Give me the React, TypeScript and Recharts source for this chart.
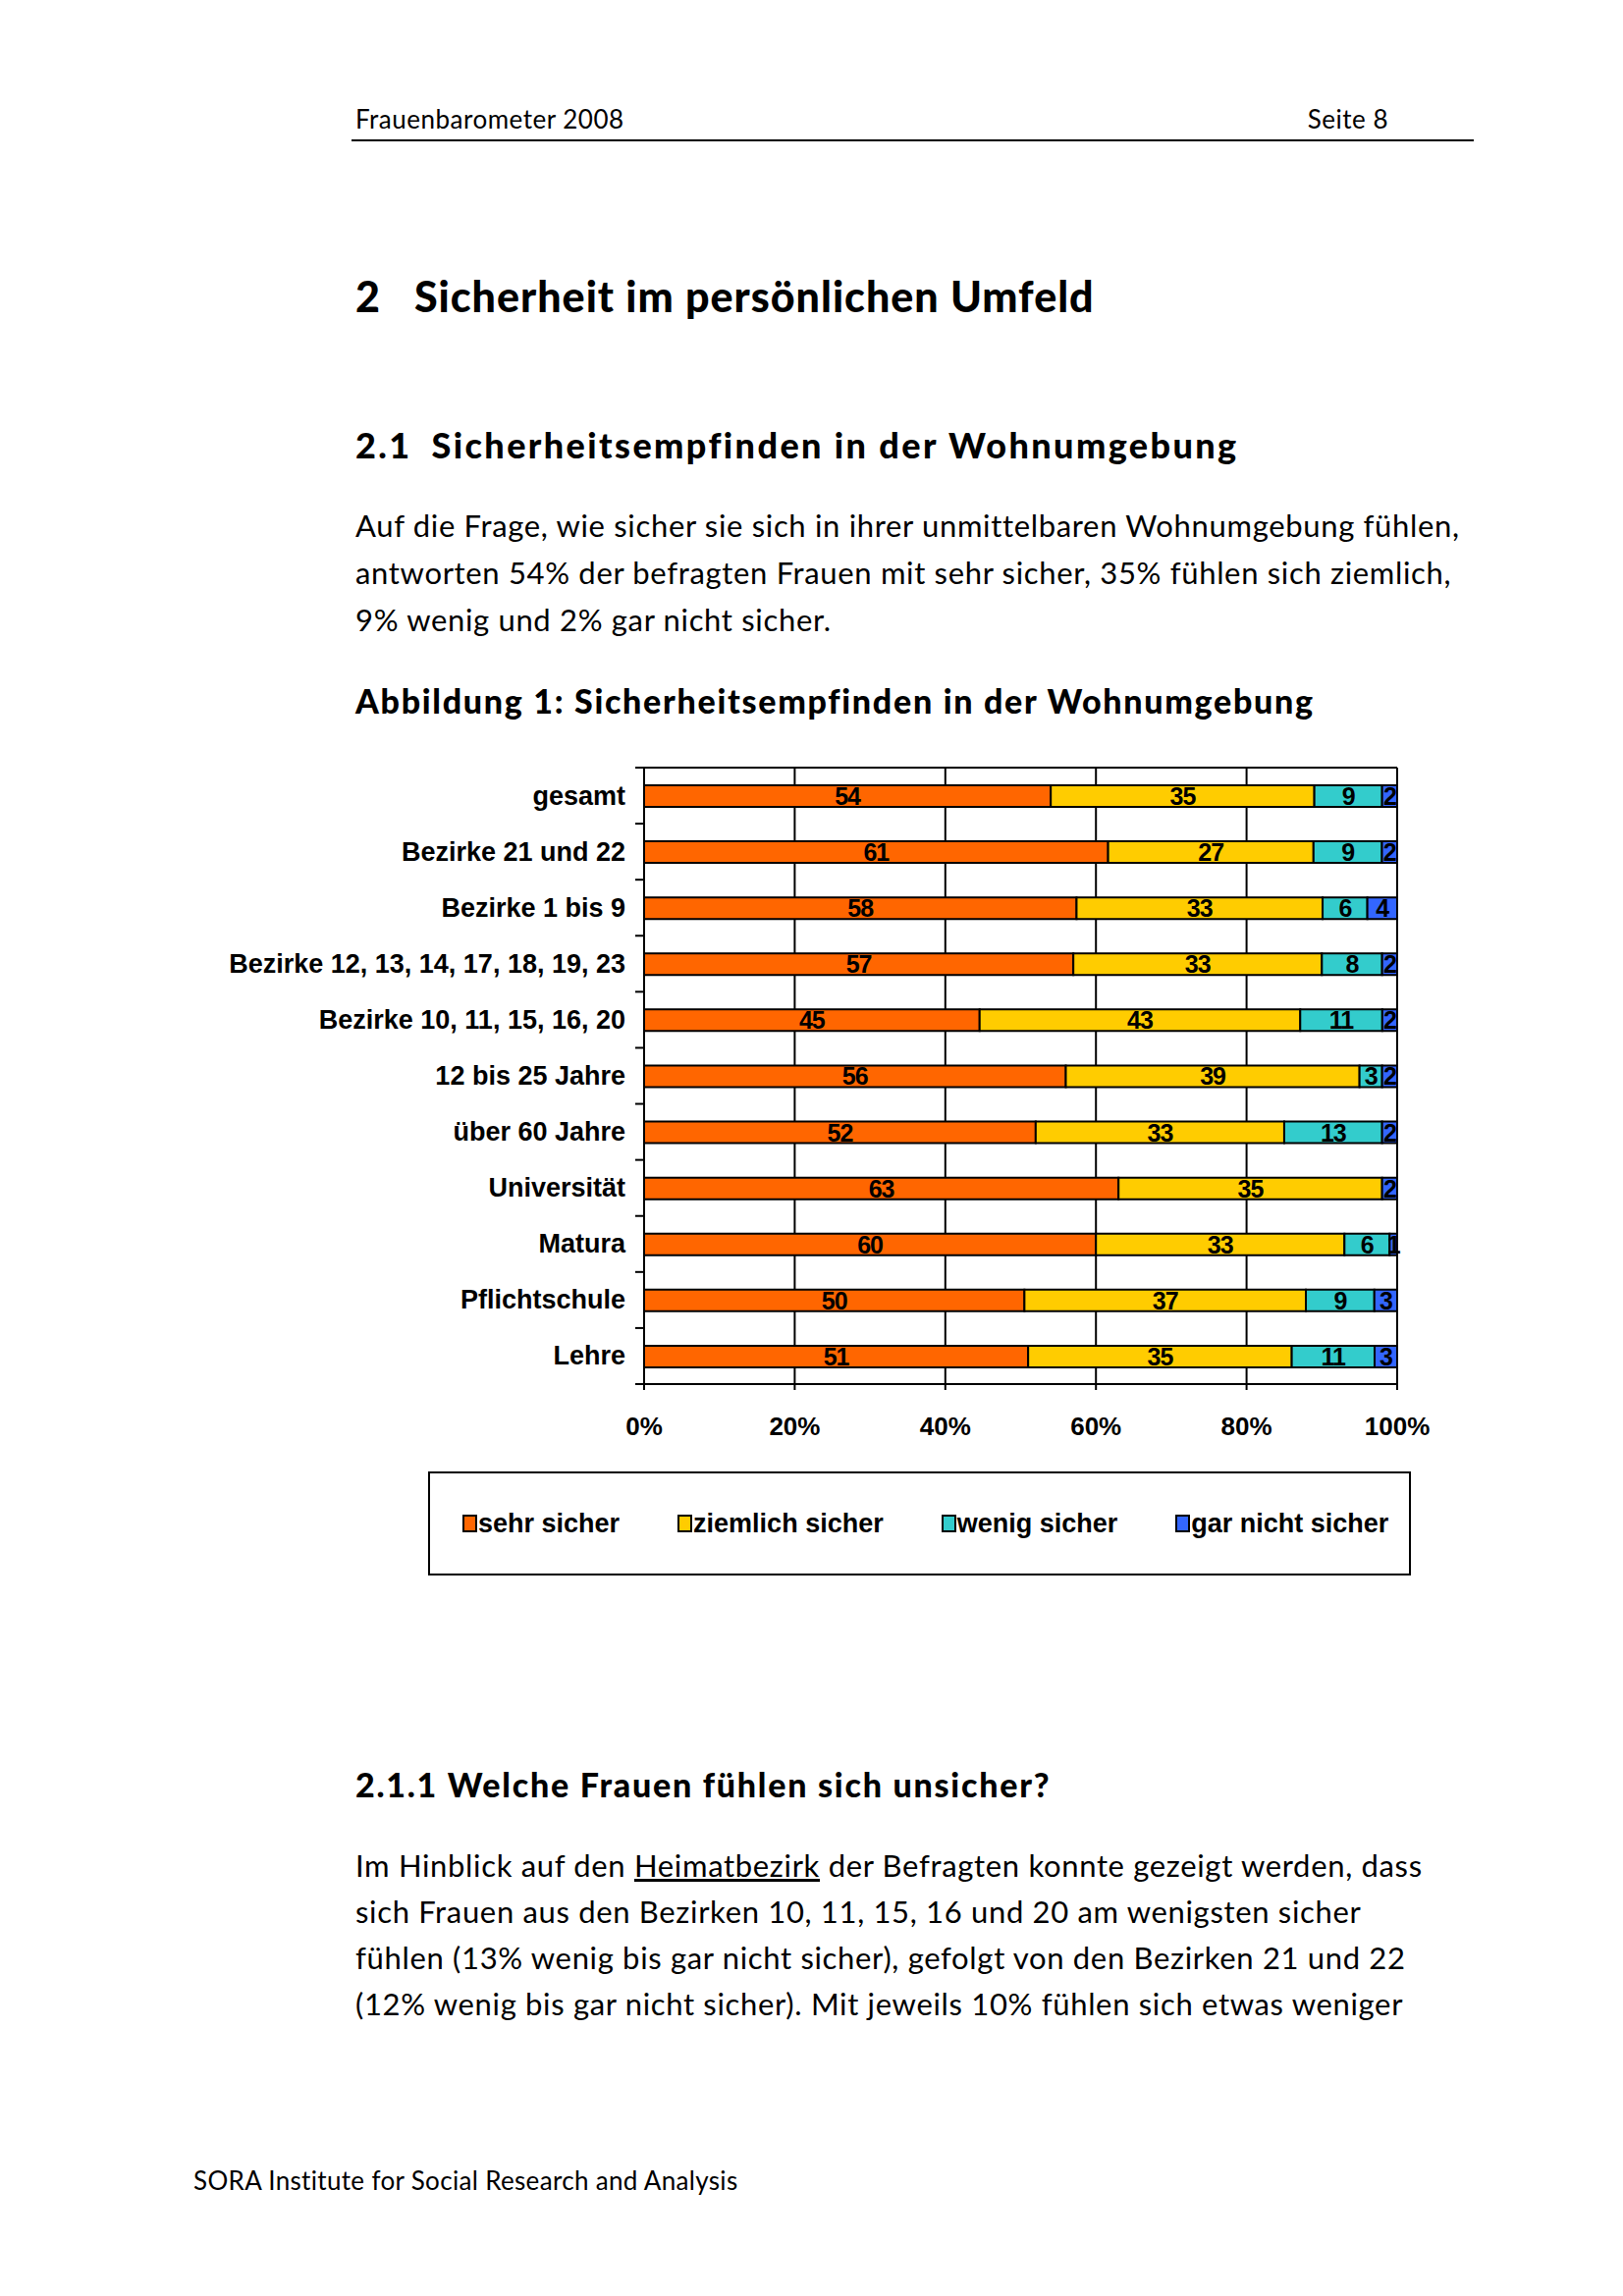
import React from 'react';
import { BarChart, Bar, XAxis, YAxis, CartesianGrid, LabelList, Legend } from 'recharts';

const categories = [
  'gesamt',
  'Bezirke 21 und 22',
  'Bezirke 1 bis 9',
  'Bezirke 12, 13, 14, 17, 18, 19, 23',
  'Bezirke 10, 11, 15, 16, 20',
  '12 bis 25 Jahre',
  'über 60 Jahre',
  'Universität',
  'Matura',
  'Pflichtschule',
  'Lehre',
];
const sehrSicher = [54, 61, 58, 57, 45, 56, 52, 63, 60, 50, 51];
const ziemlichSicher = [35, 27, 33, 33, 43, 39, 33, 35, 33, 37, 35];
const wenigSicher = [9, 9, 6, 8, 11, 3, 13, 0, 6, 9, 11];
const garNichtSicher = [2, 2, 4, 2, 2, 2, 2, 2, 1, 3, 3];
const seriesKeys = ['sehr', 'ziemlich', 'wenig', 'gar'];
const seriesNames = ['sehr sicher', 'ziemlich sicher', 'wenig sicher', 'gar nicht sicher'];
const seriesColors = ['#FF6600', '#FFCC00', '#33CCCC', '#3366FF'];
const xTicks = [0, 0.2, 0.4, 0.6, 0.8, 1];

const data = categories.map((c, i) => ({
  name: c,
  sehr: sehrSicher[i],
  ziemlich: ziemlichSicher[i],
  wenig: wenigSicher[i],
  gar: garNichtSicher[i],
}));

const chartFont = '"Liberation Sans", Arial, sans-serif';
const docFont = 'Lato, "Noto Sans", sans-serif';

const YTick = (props: any) => {
  const { x, y, payload, index, visibleTicksCount } = props;
  const axisX = x + 19;
  const off = payload && payload.offset ? payload.offset : 0;
  const isLast = index === (visibleTicksCount ?? categories.length) - 1;
  return (
    <g>
      <line x1={axisX - 9} x2={axisX} y1={y - off} y2={y - off} stroke="#000" strokeWidth={2} />
      {isLast && <line x1={axisX - 9} x2={axisX} y1={y + off} y2={y + off} stroke="#000" strokeWidth={2} />}
      <text x={x} y={y} textAnchor="end" dominantBaseline="central" fontFamily={chartFont} fontWeight="bold" fontSize={27} fill="#000">
        {payload.value}
      </text>
    </g>
  );
};

const renderValue = (props: any) => {
  const { x, y, width, height, value } = props;
  if (!value) return null;
  return (
    <text
      x={x + width / 2}
      y={y + height / 2}
      textAnchor="middle"
      dominantBaseline="central"
      fontFamily={chartFont}
      fontWeight="bold"
      fontSize={25}
      letterSpacing={-1}
      fill="#000"
    >
      {value}
    </text>
  );
};

const renderLegend = (props: any) => {
  const payload = [...(props.payload || [])].sort(
    (a: any, b: any) => seriesNames.indexOf(a.value) - seriesNames.indexOf(b.value)
  );
  return (
    <div
      style={{
        boxSizing: 'border-box',
        width: '100%',
        height: '100%',
        border: '2px solid #000',
        display: 'flex',
        alignItems: 'center',
        paddingLeft: 33,
        gap: 59,
        background: '#fff',
      }}
    >
      {payload.map((item: any) => {
        const idx = seriesNames.indexOf(item.value);
        return (
          <div key={item.value} style={{ display: 'flex', alignItems: 'center' }}>
            <span
              style={{
                display: 'inline-block',
                width: 11,
                height: 14,
                background: seriesColors[idx] || item.color,
                border: '2px solid #000',
                marginRight: 1,
              }}
            />
            <span style={{ fontFamily: chartFont, fontWeight: 'bold', fontSize: 27, color: '#000' }}>{item.value}</span>
          </div>
        );
      })}
    </div>
  );
};

const T = (p: {
  x: number;
  y: number;
  size: number;
  weight?: number | string;
  ls?: number;
  children: React.ReactNode;
  right?: boolean;
}) => (
  <div
    style={{
      position: 'absolute',
      left: p.right ? undefined : p.x,
      right: p.right ? 1653 - p.x : undefined,
      top: p.y - p.size * 0.65,
      fontSize: p.size,
      lineHeight: `${p.size * 1.3}px`,
      fontFamily: docFont,
      fontWeight: (p.weight as any) || 400,
      letterSpacing: p.ls || 0,
      color: '#000',
      whiteSpace: 'nowrap',
    }}
  >
    {p.children}
  </div>
);

export default function App() {
  return (
    <div style={{ position: 'absolute', left: 0, top: 0, width: 1653, height: 2339, background: '#fff', overflow: 'hidden' }}>
      <T x={362} y={122} size={26} ls={0.5}>Frauenbarometer 2008</T>
      <T x={1414} y={122} size={26} ls={0.5} right>Seite 8</T>
      <div style={{ position: 'absolute', left: 358, top: 142, width: 1143, height: 2, background: '#000' }} />

      <T x={362} y={302} size={43} weight={900} ls={1}>
        <span>2</span>
        <span style={{ marginLeft: 34 }}>Sicherheit im persönlichen Umfeld</span>
      </T>
      <T x={362} y={453} size={36} weight={900} ls={2.4}>
        <span>2.1</span>
        <span style={{ marginLeft: 20 }}>Sicherheitsempfinden in der Wohnumgebung</span>
      </T>

      <T x={362} y={535} size={31} ls={0.67}>Auf die Frage, wie sicher sie sich in ihrer unmittelbaren Wohnumgebung fühlen,</T>
      <T x={362} y={583} size={31} ls={0.67}>antworten 54% der befragten Frauen mit sehr sicher, 35% fühlen sich ziemlich,</T>
      <T x={362} y={631} size={31} ls={0.67}>9% wenig und 2% gar nicht sicher.</T>

      <T x={362} y={714} size={34} weight={900} ls={1.7}>Abbildung 1: Sicherheitsempfinden in der Wohnumgebung</T>

      <div style={{ position: 'absolute', left: 200, top: 760 }}>
        <BarChart
          width={1300}
          height={880}
          data={data}
          layout="vertical"
          stackOffset="expand"
          margin={{ top: 22, right: 77, left: 0, bottom: 170 }}
        >
          <CartesianGrid
            stroke="#000"
            strokeWidth={2}
            horizontalCoordinatesGenerator={(p: any) => [p.offset.top]}
          />
          <XAxis
            type="number"
            domain={[0, 1]}
            ticks={xTicks}
            tickFormatter={(v: number) => `${Math.round(v * 100)}%`}
            axisLine={{ stroke: '#000', strokeWidth: 2 }}
            tickLine={{ stroke: '#000', strokeWidth: 2 }}
            tickSize={6}
            tickMargin={28}
            height={60}
            tick={{ fontFamily: chartFont, fontWeight: 'bold', fontSize: 26, fill: '#000' }}
            interval={0}
          />
          <YAxis
            type="category"
            dataKey="name"
            width={456}
            axisLine={{ stroke: '#000', strokeWidth: 2 }}
            tickLine={false}
            tickSize={9}
            tickMargin={10}
            interval={0}
            tick={<YTick />}
          />
          <Legend
            layout="vertical"
            align="center"
            verticalAlign="middle"
            content={renderLegend}
            wrapperStyle={{ left: 236, top: 739, width: 1001, height: 106 }}
          />
          {seriesKeys.map((k, i) => (
            <Bar
              key={k}
              dataKey={k}
              name={seriesNames[i]}
              stackId="a"
              fill={seriesColors[i]}
              stroke="#000"
              strokeWidth={2}
              barSize={22}
              isAnimationActive={false}
            >
              <LabelList dataKey={k} content={renderValue} />
            </Bar>
          ))}
        </BarChart>
      </div>

      <T x={362} y={1818} size={34} weight={900} ls={1.75}>2.1.1 Welche Frauen fühlen sich unsicher?</T>
      <T x={362} y={1900} size={31} ls={0.67}>
        Im Hinblick auf den <span style={{ textDecoration: 'underline' }}>Heimatbezirk</span> der Befragten konnte gezeigt werden, dass
      </T>
      <T x={362} y={1947} size={31} ls={0.67}>sich Frauen aus den Bezirken 10, 11, 15, 16 und 20 am wenigsten sicher</T>
      <T x={362} y={1994} size={31} ls={0.67}>fühlen (13% wenig bis gar nicht sicher), gefolgt von den Bezirken 21 und 22</T>
      <T x={362} y={2041} size={31} ls={0.67}>(12% wenig bis gar nicht sicher). Mit jeweils 10% fühlen sich etwas weniger</T>

      <T x={197} y={2222} size={26} ls={0.33}>SORA Institute for Social Research and Analysis</T>
    </div>
  );
}
